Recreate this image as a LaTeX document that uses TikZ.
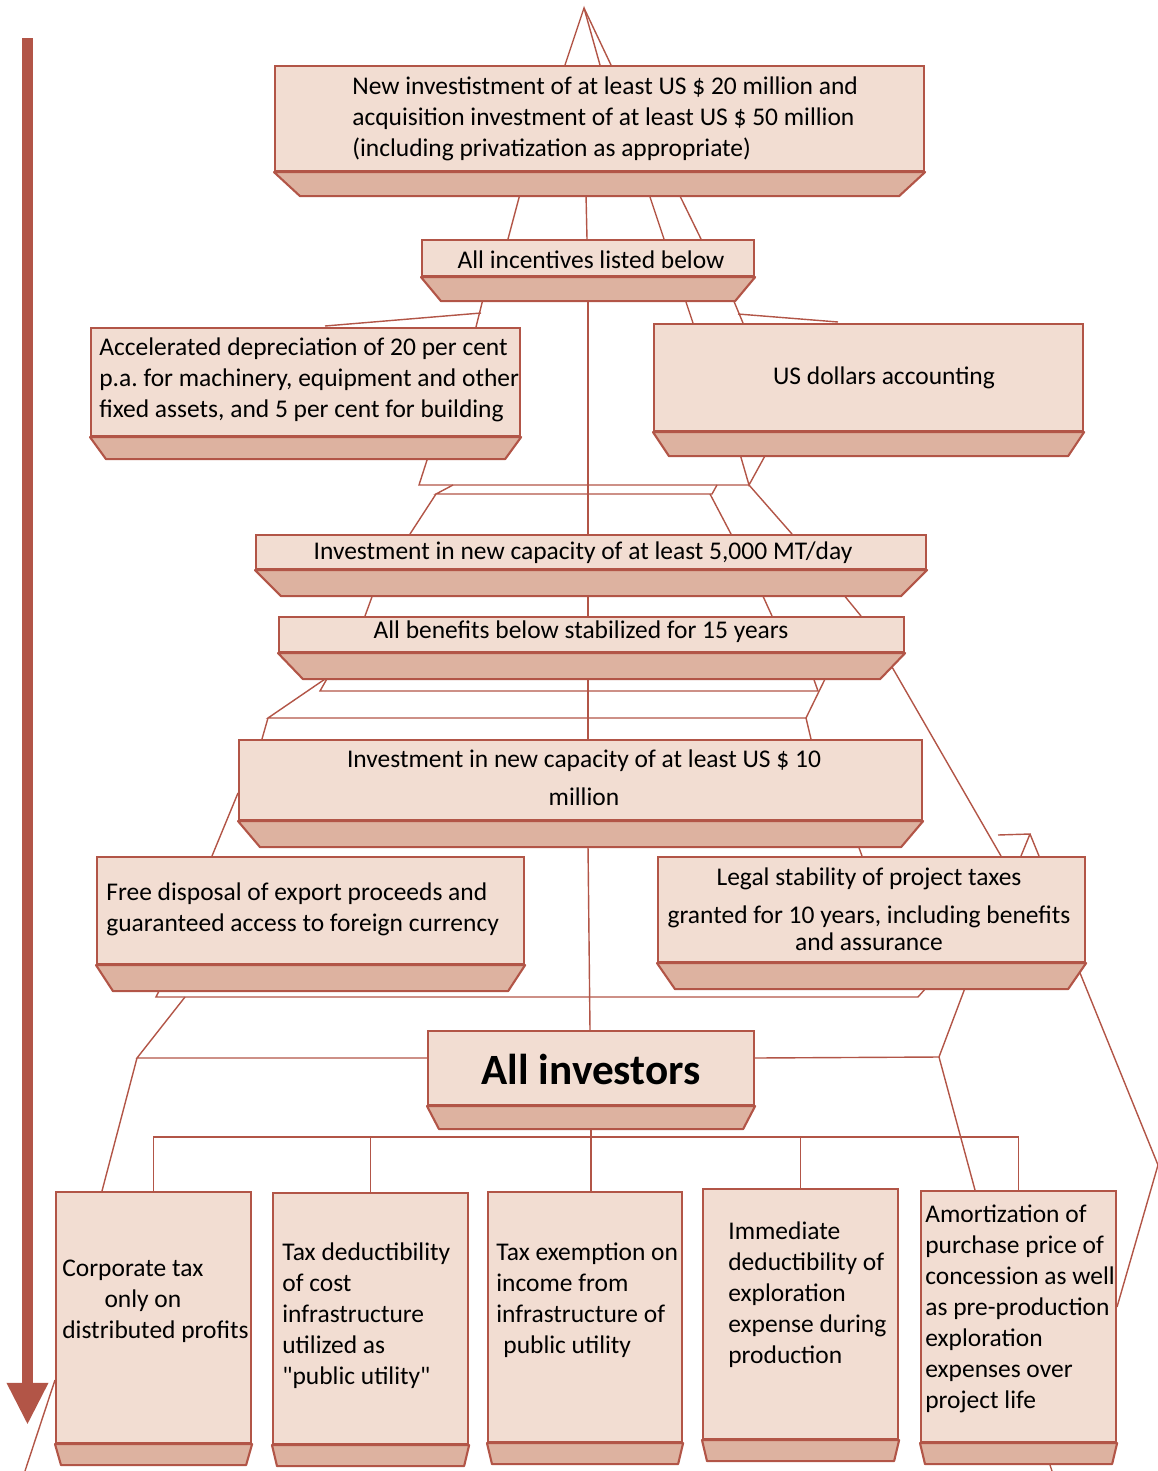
\documentclass[tikz,border=0pt]{standalone}
\usepackage{fontspec}
\setmainfont{Carlito}
\frenchspacing
\usetikzlibrary{calc,arrows.meta,positioning}
\definecolor{slabrust}{RGB}{178,85,71}
\definecolor{slabface}{RGB}{242,221,210}
\definecolor{slabbase}{RGB}{221,178,160}
\tikzset{
    slab/.style={draw=slabrust, fill=slabface, line width=1.2pt, inner sep=0pt},
    slabfoot/.style={draw=slabrust, fill=slabbase, line width=1.2pt, line join=round},
    wire/.style={draw=slabrust, line width=0.8pt},
    blurb/.style={font=\fontsize{14.5}{17.6}\selectfont, align=left, inner sep=0pt},
    flow/.style={draw=slabrust, line width=6.2pt, -{Triangle[length=24pt,width=22pt]}},
}
\pgfdeclarelayer{bg}
\pgfsetlayers{bg,main}
% box with a slanted base: name, x1, y1, x2, y2, inset, depth
\newcommand{\slab}[7]{%
    \node[slab, anchor=north west, minimum width={(#4-#2)*0.02cm}, minimum height={(#5-#3)*0.02cm}] (#1) at (#2,#3) {};
    \draw[slabfoot] (#1.south west) -- ++(#6,#7) -- ($(#1.south east)+(-#6,#7)$) -- (#1.south east) -- cycle;
    \coordinate (#1-b) at ($(#1.south)+(0,#7)$);
}

\begin{document}
\begin{tikzpicture}[x=0.02cm, y=-0.02cm]
    \useasboundingbox (0,0) rectangle (1158,1471);

    % time arrow
    \draw[flow] (27.5,38) -- (27.5,1425);

    % boxes
    \slab{topbox}{274}{65}{923}{170}{26}{24}
    \slab{incent}{421}{239}{753}{275}{20}{24}
    \slab{accel}{90}{327}{519}{435}{16}{22}
    \slab{usd}{653}{323}{1082}{430}{16}{24}
    \slab{mtday}{255}{534}{925}{568}{26}{26}
    \slab{stable}{278}{616}{903}{651}{25}{26}
    \slab{tenmil}{238}{739}{921}{819}{22}{26}
    \slab{export}{96}{856}{523}{963}{17}{26}
    \slab{legal}{657}{856}{1084}{961}{18}{26}
    \slab{allinv}{427}{1030}{753}{1104}{12}{23}
    \slab{corp}{55}{1191}{250}{1442}{6}{21}
    \slab{taxded}{272}{1192}{467}{1443}{5}{21}
    \slab{taxex}{487}{1191}{681}{1441}{5}{21}
    \slab{immed}{702}{1188}{897}{1438}{5}{21}
    \slab{amort}{920}{1190}{1115}{1441}{5}{21}

    % texts
    \node[blurb, anchor=west] (topbox-t) at (352,119) {New investistment of at least US \$ 20 million and\\acquisition investment of at least US \$ 50 million\\(including privatization as appropriate)};
    \node[blurb] (incent-t) at (591,260) {All incentives listed below};
    \node[blurb, anchor=west] (accel-t) at (99,380) {Accelerated depreciation of 20 per cent\\p.a. for machinery, equipment and other\\fixed assets, and 5 per cent for building};
    \node[blurb] (usd-t) at (884,378) {US dollars accounting};
    \node[blurb] (mtday-t) at (583,553) {Investment in new capacity of at least 5,000 MT/day};
    \node[blurb] (stable-t) at (581,632) {All benefits below stabilized for 15 years};
    \node[blurb, align=center] (tenmil-t) at (584,778) {Investment in new capacity of at least US \$ 10\\[4pt]million};
    \node[blurb, anchor=west] (export-t) at (106,909) {Free disposal of export proceeds and\\guaranteed access to foreign currency};
    \node[blurb, align=center] (legal-t) at (869,909) {Legal stability of project taxes\\[4pt]granted for 10 years, including benefits\\[-2pt]and assurance};
    \node[font=\fontsize{24.6}{28}\selectfont\bfseries] (allinv-t) at (591,1069) {All investors};
    \node[blurb, anchor=west] (corp-t) at (62,1301) {Corporate tax\\\hspace*{24pt}only on\\distributed profits};
    \node[blurb, anchor=west] (taxded-t) at (282,1316) {Tax deductibility\\of cost\\infrastructure\\utilized as\\\textquotedbl public utility\textquotedbl};
    \node[blurb, anchor=west] (taxex-t) at (496,1300.5) {Tax exemption on\\income from\\infrastructure of\\\hspace*{4pt}public utility};
    \node[blurb, anchor=west] (immed-t) at (728,1294.5) {Immediate\\deductibility of\\exploration\\expense during\\production};
    \node[blurb, anchor=west] (amort-t) at (925,1309) {Amortization of\\purchase price of\\concession as well\\as pre-production\\exploration\\expenses over\\project life};

    \begin{pgfonlayer}{bg}
        % tree under all investors
        \draw[wire] (allinv-b) -- ++(0,8) coordinate (fork);
        \draw[wire] (fork) -- (fork |- taxex.north);
        \foreach \leaf in {corp, taxded, immed, amort}
            \draw[wire] (fork) -| (\leaf.north);

        % spine
        \draw[wire] (586,194) -- (587,239);
        \draw[wire] (588,299) -- (588,534);
        \draw[wire] (588,594) -- (588,616);
        \draw[wire] (588,677) -- (588,739);
        \draw[wire] (588,845) -- (590,1030);

        % apex
        \coordinate (apex) at (584,8);
        \draw[wire] (565,65) -- (apex) -- (600,65);
        \draw[wire] (apex) -- (611,65);

        % top box to incentives
        \draw[wire] (520,194) -- (508,239);
        \draw[wire] (649,194) -- (664,239);
        \draw[wire] (679,194) -- (701,239);

        % incentives to second row
        \draw[wire] (483,299) -- (476,327);
        \draw[wire] (481,313) -- (325,326);
        \draw[wire] (685,299) -- (693,323);
        \draw[wire] (733,299) -- (743,323);
        \draw[wire] (738,314) -- (838,322);

        % second row to capacity
        \draw[wire] (428,457) -- (419,485) -- (749,485);
        \draw[wire] (740,454) -- (749,485) -- (766,454);
        \draw[wire] (453,485) -- (436,494) -- (712,494) -- (717,485);
        \draw[wire] (436,494) -- (410,534);
        \draw[wire] (710,494) -- (731,534);
        \draw[wire] (749,485) -- (792,534);

        % capacity to benefits
        \draw[wire] (373,594) -- (365,616);
        \draw[wire] (762,594) -- (772,616);
        \draw[wire] (843,594) -- (861,616);

        % benefits to ten million
        \draw[wire] (328,677) -- (320,691) -- (818,691) -- (813,677);
        \draw[wire] (826,677) -- (806,718);
        \draw[wire] (328,677) -- (268,718) -- (806,718);
        \draw[wire] (268,718) -- (262,739);
        \draw[wire] (806,718) -- (811,739);
        \draw[wire] (888,660) -- (1001,856);
        \draw[wire] (998,835) -- (1030,834) -- (1021,856);
        \draw[wire] (1030,834) -- (1039,856);

        % ten million to third row
        \draw[wire] (238,793) -- (212,856);
        \draw[wire] (858,845) -- (862,856);

        % third row to all investors
        \draw[wire] (160,989) -- (156,997) -- (918,997) -- (926,988);
        \draw[wire] (185,997) -- (137,1058) -- (allinv.west |- 0,1058);
        \draw[wire] (137,1058) -- (102,1191);
        \draw[wire] (965,988) -- (939,1057) -- (allinv.east |- 0,1058);
        \draw[wire] (939,1057) -- (975,1190);
        \draw[wire] (1078,968) -- (1158,1165) -- (1117,1307);
        \draw[wire] (55,1380) -- (25,1471);
        \draw[wire] (1049,1462) -- (1052,1471);
    \end{pgfonlayer}
\end{tikzpicture}
\end{document}
